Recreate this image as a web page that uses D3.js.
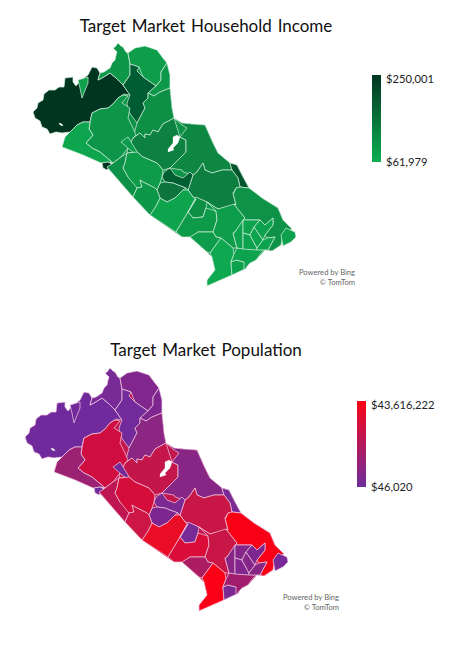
<!DOCTYPE html>
<html><head><meta charset="utf-8">
<script src="https://cdn.jsdelivr.net/npm/d3@7"></script>
<style>html,body{margin:0;padding:0;background:#fff}svg{display:block}text{font-family:Lato,"Open Sans",sans-serif}</style>
</head><body><div id="c"></div>
<script>
const zoneNames=["West","North","Wedge","NorthEast","Ridge","Strip","Upper","Central","Bay","River","Core","BlobA","BlobB","CoastA","Pocket","CoastB","Mid","CoastC","South","Tip","Inlet","East","Cape","SE1","SE2","SE3","SE4","SE5","SE6","Valley","SW","Speck","Link","CoastD","Heart","Lower"];
const incomeValues=[248000,98000,86000,88000,190000,94000,110000,132000,122000,200000,135000,185000,150000,78000,112000,92000,88000,90000,72000,82000,80000,106000,82000,80000,80000,80000,80000,80000,80000,100000,76000,250001,90000,108000,92000,98000];
const populationValues=[900000,3000000,1200000,6000000,1500000,5000000,9000000,27000000,8000000,3500000,28000000,4000000,5000000,38000000,3000000,33000000,28000000,19000000,43616222,4000000,16000000,43000000,3000000,8000000,7000000,6000000,7000000,5000000,8000000,30000000,14000000,1000000,2000000,25000000,32000000,29000000];
const landRing=[[125,90],[130,75],[130,64],[139,67],[156,86],[170,88],[172,108],[174,118],[182,123],[192,124],[205,125],[213,143],[218,153],[230,163],[237,165],[242,175],[249,188],[262,198],[278,208],[283,220],[292,229],[283,234],[281,245],[272,251],[265,250],[256,260],[250,263],[232,275],[215,270],[212,257],[207,252],[190,237],[182,237],[150,215],[133,197],[107,167],[113,163],[100,152],[93,135],[92,113],[108,108]];
const zoneRings=[
[[100,73],[98,80],[102,78],[110,73],[116,78],[120,82],[123,85],[130,95],[124,94],[118,98],[113,104],[108,108],[100,109],[92,113],[90,122],[83,122],[77,125],[70,132],[62,133],[56,132],[50,134],[47,129],[42,127],[40,121],[35,118],[33,112],[37,108],[38,103],[43,100],[44,94],[49,90],[55,90],[59,87],[64,87],[65,78],[73,77],[73,82],[76,86],[80,81],[88,75],[90,71],[92,67],[97,68]],
[[100,73],[104,72],[110,68],[112,63],[115,60],[116,55],[117,52],[113,48],[115,47],[118,43],[121,46],[123,47],[126,52],[128,53],[130,64],[130,75],[123,85],[120,82],[116,78],[110,73],[102,78],[98,80]],
[[78,80],[88,77],[88,83],[82,98],[80,88]],
[[128,53],[135,48],[145,46],[157,50],[163,58],[167,63],[161,72],[161,80],[156,86],[143,77],[139,67],[130,64]],
[[130,64],[139,67],[137,71],[143,77],[156,86],[148,93],[148,98],[143,103],[145,108],[137,123],[131,115],[128,110],[127,103],[130,95],[123,85],[130,75]],
[[167,63],[170,75],[170,88],[160,92],[154,96],[148,93],[156,86],[161,80],[161,72]],
[[170,88],[172,108],[174,118],[163,124],[158,132],[153,130],[150,135],[145,134],[145,138],[140,133],[133,138],[137,123],[145,108],[143,103],[148,98],[148,93],[154,96],[160,92]],
[[133,138],[140,133],[145,138],[145,134],[150,135],[153,130],[158,132],[163,124],[174,118],[180,137],[186,140],[186,152],[170,168],[163,170],[157,163],[143,157],[137,152],[127,153],[128,148]],
[[174,118],[182,123],[192,124],[205,125],[213,143],[218,153],[230,163],[232,170],[222,170],[212,173],[205,170],[203,163],[197,172],[193,175],[183,172],[182,170],[170,168],[186,152],[186,140],[180,137],[187,128],[182,125]],
[[230,163],[237,165],[242,175],[249,188],[240,187],[238,178],[232,170]],
[[203,163],[205,170],[212,173],[222,170],[232,170],[238,178],[240,187],[236,188],[233,193],[236,205],[218,209],[207,202],[193,197],[188,190],[193,175],[197,172]],
[[164,172],[170,168],[175,175],[183,178],[190,172],[193,175],[188,190],[186,188],[178,185],[173,183],[165,182],[162,177]],
[[157,190],[160,183],[165,182],[173,183],[178,185],[186,188],[183,190],[175,198],[167,202],[160,198]],
[[150,215],[156,206],[160,198],[167,202],[175,198],[183,190],[188,190],[193,197],[196,199],[176,232]],
[[188,212],[196,197],[207,202],[206,208],[203,217],[193,218]],
[[176,232],[196,199],[188,212],[193,218],[203,217],[206,208],[216,211],[217,220],[213,232],[198,232],[191,237],[182,237]],
[[207,202],[218,209],[234,204],[245,218],[235,232],[233,233],[237,248],[233,248],[221,238],[216,237],[213,232],[217,220],[216,211]],
[[190,237],[198,232],[213,232],[216,237],[221,238],[210,253],[207,252]],
[[210,253],[221,238],[233,248],[234,254],[231,262],[232,275],[207,286],[207,280],[215,270],[212,257]],
[[231,262],[236,260],[244,262],[247,268],[232,275]],
[[234,254],[237,248],[265,250],[261,253],[256,260],[250,263],[244,270],[244,262],[236,260],[231,262]],
[[234,193],[236,188],[240,187],[249,188],[262,198],[278,208],[283,220],[292,229],[283,234],[281,245],[272,251],[268,250],[275,237],[267,238],[265,235],[273,225],[273,218],[265,225],[260,220],[243,220],[245,218],[234,204],[236,205],[233,193]],
[[281,235],[286,228],[295,232],[296,237],[291,242],[283,246]],
[[235,232],[243,220],[243,233],[243,249],[237,248],[233,233]],
[[243,220],[260,220],[254,227],[250,235],[243,233]],
[[243,233],[250,235],[257,248],[257,250],[243,249]],
[[250,235],[254,227],[263,240],[257,248]],
[[260,220],[265,225],[273,218],[273,225],[265,235],[263,240],[254,227]],
[[267,238],[275,237],[268,250],[265,250],[257,250],[257,248],[263,240]],
[[128,148],[121,157],[113,163],[106,157],[100,152],[92,148],[86,143],[93,135],[89,129],[90,122],[92,113],[100,109],[108,108],[113,104],[118,98],[123,95],[128,96],[122,103],[130,108],[128,118],[132,126],[136,135],[133,138]],
[[65,137],[70,132],[77,125],[83,122],[90,122],[89,129],[93,135],[86,143],[92,148],[100,152],[106,157],[113,163],[108,162],[102,163],[101,163],[83,155],[62,147]],
[[102,163],[108,162],[112,164],[107,170],[103,168]],
[[121,142],[128,137],[136,150],[140,157],[130,150]],
[[107,167],[112,164],[113,163],[121,157],[127,153],[125,163],[123,168],[128,177],[137,183],[137,188],[133,197]],
[[125,163],[127,153],[137,152],[143,157],[157,163],[163,170],[162,177],[160,183],[157,190],[155,188],[143,182],[140,180],[142,187],[137,188],[128,177],[123,168]],
[[137,188],[142,187],[140,180],[143,182],[155,188],[157,190],[160,198],[156,206],[150,215],[133,197]]
];
const holeRings=[
[[177,135],[180,137],[178,143],[173,148],[174,150],[168,152],[168,149],[173,143],[173,137]],
[[59,123],[62,124],[63,126],[60,125]]
];
const incomeDomain=[61979,250001];
const populationDomain=[46020,43616222];
const incomeColors=["#0cae52","#033520"];
const populationColors=["#6e2d9f","#fb0416"];
const incomeLandValue=105000, populationLandValue=26000000;

const W=454,H=649;
const svg=d3.select("#c").append("svg").attr("width",W).attr("height",H).attr("viewBox",[0,0,W,H]);
const defs=svg.append("defs");
const close=r=>r.concat([r[0]]);
const features=zoneRings.map((r,i)=>({type:"Feature",properties:{name:zoneNames[i]},geometry:{type:"Polygon",coordinates:[close(r)]}}));
const holes={type:"MultiPolygon",coordinates:holeRings.map(r=>[close(r)])};
const land={type:"Polygon",coordinates:[close(landRing)]};
const blur=defs.append("filter").attr("id","soft").attr("x","-5%").attr("y","-5%").attr("width","110%").attr("height","110%");
blur.append("feGaussianBlur").attr("stdDeviation",0.3);

function map(cfg){
 const sx=d3.scaleLinear().domain([0,300]).range([cfg.dx,cfg.dx+300]);
 const sy=d3.scaleLinear().domain([0,300]).range([cfg.dy,cfg.dy+300]);
 const path=d3.geoPath(d3.geoTransform({point(x,y){this.stream.point(sx(x),sy(y));}}));
 const color=d3.scaleLinear().domain(cfg.domain).range(cfg.colors);
 const g=svg.append("g").attr("filter","url(#soft)");
 g.append("path").attr("d",path(land)).attr("fill",color(cfg.landValue));
 g.selectAll("path.zone").data(features).join("path").attr("class","zone")
  .attr("d",path).attr("fill",(d,i)=>color(cfg.values[i]))
  .attr("stroke",cfg.line).attr("stroke-width",0.7).attr("stroke-linejoin","round");
 g.append("path").attr("d",path(holes)).attr("fill","#fff").attr("stroke","#fff").attr("stroke-width",0.3);
 svg.append("text").attr("x",cfg.titleX).attr("y",cfg.titleY).attr("text-anchor","middle")
  .attr("font-size",17).attr("fill","#111").attr("word-spacing",1.5).text(cfg.title);
 const id="grad"+cfg.legX;
 const gr=defs.append("linearGradient").attr("id",id).attr("x1",0).attr("y1",1).attr("x2",0).attr("y2",0);
 gr.append("stop").attr("offset","0%").attr("stop-color",color(cfg.domain[0]));
 gr.append("stop").attr("offset","100%").attr("stop-color",color(cfg.domain[1]));
 const ly=d3.scaleLinear().domain(cfg.domain).range([cfg.legY1,cfg.legY0]);
 svg.append("rect").attr("x",cfg.legX).attr("y",ly(cfg.domain[1])).attr("width",9)
  .attr("height",ly(cfg.domain[0])-ly(cfg.domain[1])).attr("fill",`url(#${id})`);
 const ax=svg.append("g").attr("transform",`translate(${cfg.legX+9},0)`)
  .call(d3.axisRight(ly).tickValues(cfg.domain).tickSize(0).tickPadding(5).tickFormat(d3.format("$,")));
 ax.select(".domain").remove();
 ax.selectAll("text").attr("font-family","Lato").attr("font-size",11.2).attr("fill","#222");
 ax.selectAll(".tick").filter(d=>d===cfg.domain[1]).select("text").attr("dy","0.65em");
 ax.selectAll(".tick").filter(d=>d===cfg.domain[0]).select("text").attr("dy","0.35em");
 const a=svg.append("g").attr("font-size",7.6).attr("fill","#666").attr("text-anchor","end");
 a.append("text").attr("x",cfg.attrX).attr("y",cfg.attrY).text("Powered by Bing");
 a.append("text").attr("x",cfg.attrX).attr("y",cfg.attrY+10).text("\u00a9 TomTom");
}
map({dx:0,dy:0,values:incomeValues,landValue:incomeLandValue,domain:incomeDomain,colors:incomeColors,line:"#d8efdf",title:"Target Market Household Income",titleX:206,titleY:32,legX:372,legY0:75,legY1:162,attrX:355,attrY:275});
map({dx:-8,dy:325,values:populationValues,landValue:populationLandValue,domain:populationDomain,colors:populationColors,line:"#f3cfe6",title:"Target Market Population",titleX:206,titleY:356,legX:357,legY0:401,legY1:487,attrX:339,attrY:600});
</script></body></html>
